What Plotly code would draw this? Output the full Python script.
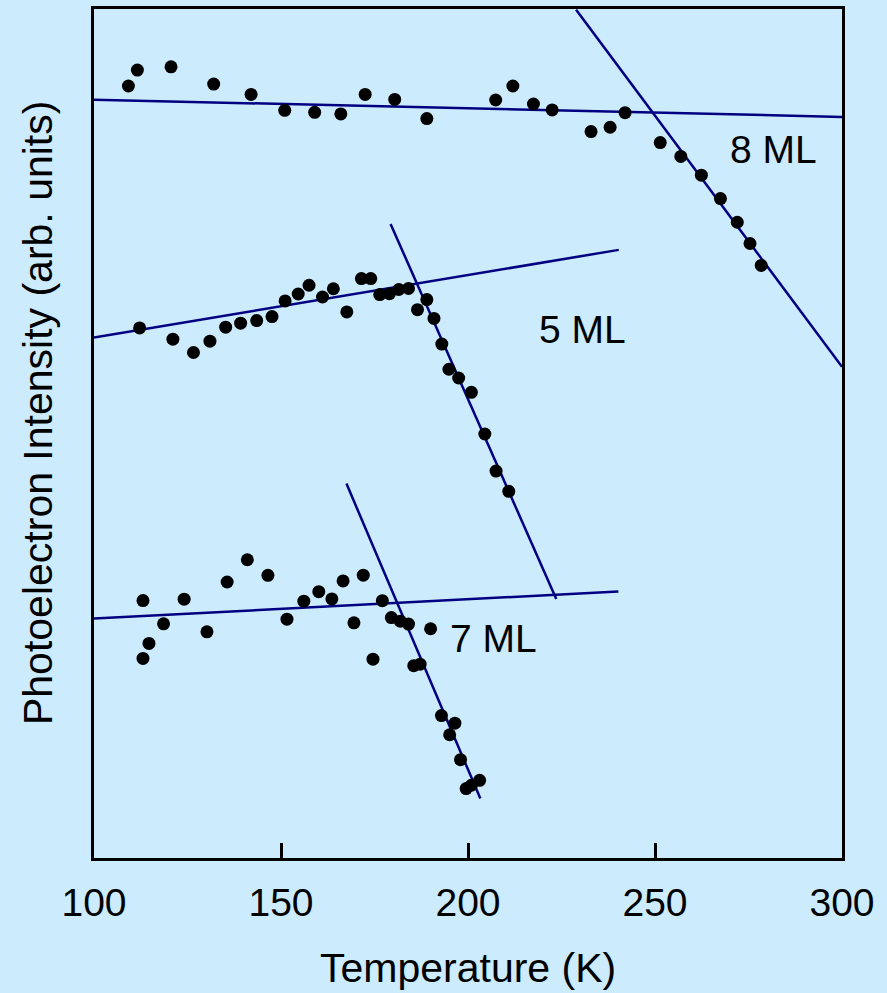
import plotly.graph_objects as go

# Temperature (K) and photoelectron intensity (arb. units) for each coverage
t_8ml = [109.2, 111.6, 120.6, 132.0, 142.0, 151.0, 159.0, 166.0, 172.5, 180.4,
         189.0, 207.4, 212.0, 217.5, 222.5, 232.9, 238.0, 242.0, 251.4, 256.9,
         262.4, 267.5, 272.0, 275.4, 278.4]
i_8ml = [90.93, 92.81, 93.19, 91.16, 89.94, 88.06, 87.83, 87.64, 89.94, 89.35,
         87.09, 89.28, 90.93, 88.81, 88.11, 85.56, 86.07, 87.79, 84.27, 82.63,
         80.43, 77.67, 74.88, 72.38, 69.80]

t_5ml = [112.2, 121.1, 126.6, 131.0, 135.2, 139.2, 143.5, 147.6, 151.1, 154.6,
         157.5, 161.1, 164.0, 167.6, 171.5, 174.0, 176.4, 179.0, 181.5, 184.1,
         186.5, 189.0, 190.9, 193.0, 194.9, 197.5, 200.9, 204.5, 207.5, 210.9]
i_5ml = [62.44, 61.11, 59.54, 60.88, 62.52, 62.99, 63.30, 63.77, 65.61, 66.43,
         67.46, 66.08, 67.05, 64.32, 68.25, 68.25, 66.36, 66.47, 66.96, 67.08,
         64.58, 65.77, 63.56, 60.53, 57.57, 56.54, 54.85, 49.94, 45.58, 43.19]

t_7ml = [113.1, 114.7, 113.1, 118.6, 124.1, 130.2, 135.6, 141.0, 146.5, 151.6,
         156.1, 160.1, 163.6, 166.6, 169.5, 172.0, 174.6, 177.1, 179.5, 181.9,
         184.1, 185.5, 187.2, 190.0, 192.9, 196.5, 195.1, 198.0, 199.5, 200.9, 203.1]
i_7ml = [30.32, 25.27, 23.51, 27.58, 30.48, 26.64, 32.51, 35.13, 33.30, 28.13,
         30.25, 31.37, 30.52, 32.63, 27.70, 33.31, 23.42, 30.31, 28.32, 27.89,
         27.55, 22.65, 22.83, 27.00, 16.78, 15.88, 14.52, 11.58, 8.18, 8.57, 9.15]

# Straight-line fits: low-temperature plateau and desorption edge
fit_8ml_flat = ([100.0, 300.0], [89.32, 87.29])
fit_8ml_edge = ([228.9, 300.0], [99.92, 57.86])
fit_5ml_flat = ([100.0, 240.3], [61.30, 71.63])
fit_5ml_edge = ([179.3, 223.6], [74.68, 30.52])
fit_7ml_flat = ([100.0, 240.2], [28.20, 31.40])
fit_7ml_edge = ([167.5, 203.3], [44.10, 7.01])

labels = ["8 ML", "5 ML", "7 ML"]
label_t = [281.8, 230.6, 206.9]
label_i = [83.45, 62.2, 25.8]

x_ticks = [100, 150, 200, 250, 300]

BG = "#CCEBFC"
LINE = "#000080"
FONT = "Liberation Sans, Arial, sans-serif"

fig = go.Figure()

for xs, ys in [fit_8ml_flat, fit_8ml_edge, fit_5ml_flat, fit_5ml_edge,
               fit_7ml_flat, fit_7ml_edge]:
    fig.add_trace(go.Scatter(x=xs, y=ys, mode="lines",
                             line=dict(color=LINE, width=2.5),
                             showlegend=False, hoverinfo="skip"))

for xs, ys in [(t_8ml, i_8ml), (t_5ml, i_5ml), (t_7ml, i_7ml)]:
    fig.add_trace(go.Scatter(x=xs, y=ys, mode="markers",
                             marker=dict(color="black", size=13),
                             showlegend=False))

for txt, tx, iy in zip(labels, label_t, label_i):
    fig.add_annotation(x=tx, y=iy, text=txt, showarrow=False,
                       font=dict(family=FONT, size=39, color="black"),
                       xanchor="center", yanchor="middle")

fig.add_annotation(xref="paper", yref="paper", x=0.5, y=-0.129,
                   text="Temperature (K)", showarrow=False,
                   font=dict(family=FONT, size=41, color="black"),
                   xanchor="center", yanchor="middle")
fig.add_annotation(xref="paper", yref="paper", x=-0.075, y=0.524,
                   text="Photoelectron Intensity (arb. units)", showarrow=False,
                   textangle=-90,
                   font=dict(family=FONT, size=41, color="black"),
                   xanchor="center", yanchor="middle")

fig.update_layout(
    width=887, height=993, autosize=False,
    margin=dict(l=94, r=45, t=6, b=135),
    paper_bgcolor=BG, plot_bgcolor=BG,
    font=dict(family=FONT, color="black"),
)
fig.update_xaxes(range=[100, 300], tickvals=x_ticks,
                 ticktext=[str(v) for v in x_ticks],
                 ticks="inside", ticklen=15, tickwidth=2.5, tickcolor="black",
                 showline=True, linecolor="black", linewidth=2.5, mirror=True,
                 showgrid=False, zeroline=False,
                 tickfont=dict(family=FONT, size=39, color="black"),
                 ticklabelstandoff=8)
fig.update_yaxes(range=[0, 100], showticklabels=False, ticks="",
                 showline=True, linecolor="black", linewidth=2.5, mirror=True,
                 showgrid=False, zeroline=False)

fig.write_html("out.html")
